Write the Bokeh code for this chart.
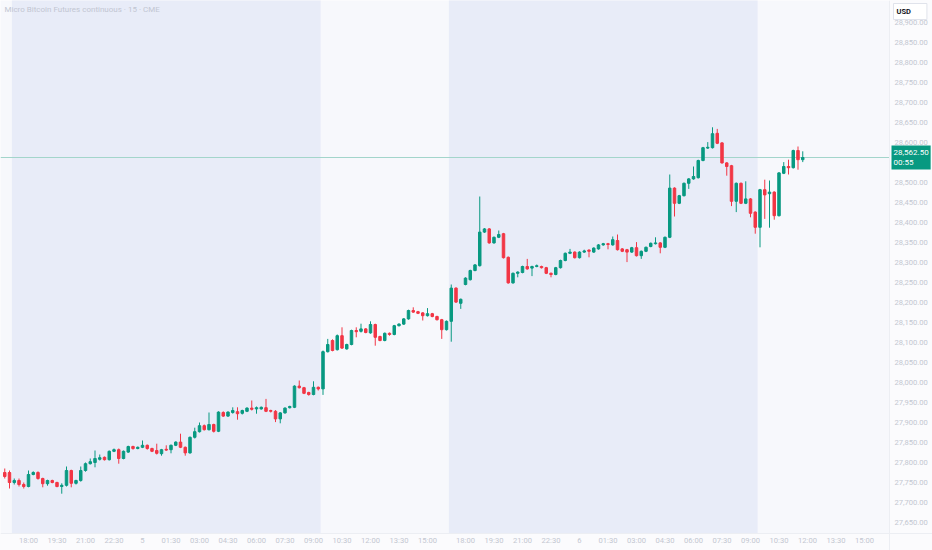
from bokeh.plotting import figure
from bokeh.models import (ColumnDataSource, FixedTicker, NumeralTickFormatter, Label, Range1d)
from bokeh.embed import file_html
from bokeh.resources import INLINE

title_text = "Micro Bitcoin Futures continuous · 15 · CME"
currency = "USD"
last_price_text = "28,562.50\n00:55"
last_price = 28562.5

# compressed trading-hour axis: 0 = 00:00 of day 5, the 16:00-17:00 break removed
first_bar_hour = -7.25
bar_step = 0.25

opens = [27775, 27775, 27750, 27755, 27745, 27740, 27770, 27775, 27760, 27747,
         27755, 27750, 27740, 27743, 27780, 27748, 27755, 27780, 27797, 27800,
         27808, 27813, 27807, 27828, 27832, 27810, 27826, 27840, 27835, 27838,
         27843, 27835, 27830, 27822, 27833, 27832, 27843, 27851, 27838, 27824,
         27863, 27877, 27892, 27882, 27895, 27878, 27925, 27916, 27925, 27927,
         27923, 27928, 27936, 27934, 27934, 27937, 27930, 27928, 27909, 27924,
         27937, 27938, 27991, 27987, 27975, 27970, 27988, 27984, 28077, 28105,
         28082, 28117, 28084, 28095, 28130, 28128, 28134, 28124, 28145, 28115,
         28105, 28123, 28120, 28142, 28146, 28159, 28180, 28177, 28174, 28167,
         28172, 28165, 28157, 28132, 28153, 28236, 28198, 28245, 28257, 28280,
         28292, 28376, 28384, 28349, 28363, 28372, 28313, 28249, 28273, 28275,
         28290, 28286, 28290, 28290, 28287, 28273, 28270, 28287, 28305, 28323,
         28326, 28312, 28326, 28331, 28326, 28334, 28344, 28347, 28344, 28355,
         28334, 28332, 28326, 28337, 28317, 28328, 28340, 28347, 28349, 28338,
         28363, 28486, 28448, 28467, 28498, 28509, 28512, 28555, 28586, 28587,
         28623, 28599, 28549, 28542, 28453, 28498, 28448, 28459, 28426, 28388,
         28482, 28472, 28476, 28417, 28523, 28540, 28537, 28580, 28557]
highs = [27785, 27780, 27760, 27760, 27750, 27780, 27778, 27778, 27762, 27757,
         27757, 27752, 27748, 27790, 27782, 27757, 27790, 27800, 27810, 27830,
         27820, 27815, 27830, 27835, 27835, 27830, 27842, 27842, 27840, 27855,
         27845, 27837, 27847, 27834, 27843, 27845, 27853, 27872, 27840, 27865,
         27887, 27900, 27895, 27925, 27897, 27928, 27928, 27928, 27938, 27938,
         27932, 27938, 27955, 27940, 27940, 27959, 27932, 27931, 27926, 27938,
         27942, 27993, 28005, 27989, 27977, 28003, 27990, 28080, 28109, 28108,
         28120, 28138, 28097, 28132, 28138, 28147, 28136, 28153, 28147, 28117,
         28125, 28125, 28144, 28148, 28161, 28182, 28188, 28179, 28176, 28186,
         28174, 28167, 28159, 28155, 28245, 28238, 28210, 28263, 28282, 28296,
         28465, 28386, 28386, 28365, 28380, 28374, 28315, 28275, 28278, 28292,
         28309, 28292, 28295, 28292, 28289, 28275, 28289, 28307, 28325, 28334,
         28328, 28328, 28332, 28333, 28338, 28346, 28349, 28349, 28365, 28370,
         28336, 28334, 28339, 28351, 28330, 28340, 28350, 28363, 28351, 28365,
         28520, 28488, 28469, 28500, 28511, 28540, 28557, 28589, 28601, 28638,
         28634, 28601, 28551, 28544, 28500, 28500, 28503, 28461, 28428, 28484,
         28507, 28505, 28478, 28526, 28551, 28557, 28582, 28590, 28578]
lows = [27760, 27735, 27745, 27740, 27735, 27738, 27768, 27757, 27738, 27742,
        27748, 27738, 27722, 27740, 27738, 27745, 27752, 27777, 27795, 27788,
        27805, 27805, 27805, 27826, 27797, 27808, 27824, 27832, 27833, 27836,
        27832, 27826, 27820, 27817, 27829, 27823, 27841, 27836, 27817, 27822,
        27860, 27875, 27880, 27880, 27875, 27876, 27914, 27914, 27922, 27907,
        27920, 27926, 27930, 27922, 27932, 27926, 27925, 27901, 27898, 27922,
        27935, 27936, 27985, 27971, 27967, 27968, 27980, 27969, 28075, 28078,
        28080, 28084, 28082, 28093, 28113, 28125, 28123, 28122, 28092, 28103,
        28103, 28117, 28118, 28140, 28144, 28157, 28174, 28171, 28155, 28165,
        28163, 28155, 28109, 28130, 28102, 28199, 28184, 28243, 28255, 28278,
        28290, 28374, 28347, 28347, 28361, 28310, 28247, 28247, 28263, 28273,
        28282, 28266, 28288, 28285, 28271, 28263, 28268, 28285, 28303, 28321,
        28310, 28310, 28324, 28313, 28324, 28332, 28342, 28333, 28342, 28330,
        28326, 28301, 28324, 28315, 28309, 28326, 28338, 28345, 28323, 28336,
        28361, 28415, 28446, 28465, 28484, 28507, 28510, 28553, 28584, 28585,
        28596, 28547, 28517, 28441, 28426, 28446, 28446, 28413, 28372, 28338,
        28409, 28387, 28407, 28415, 28521, 28520, 28535, 28532, 28551]
closes = [27765, 27750, 27755, 27745, 27740, 27770, 27775, 27760, 27747, 27755,
          27750, 27740, 27743, 27780, 27748, 27755, 27780, 27797, 27802, 27810,
          27812, 27807, 27828, 27832, 27810, 27828, 27840, 27835, 27838, 27843,
          27835, 27828, 27823, 27832, 27831, 27843, 27851, 27838, 27824, 27863,
          27877, 27892, 27882, 27895, 27878, 27926, 27916, 27926, 27930, 27922,
          27930, 27936, 27933, 27937, 27938, 27928, 27928, 27909, 27924, 27936,
          27940, 27991, 27987, 27973, 27970, 27988, 27984, 28077, 28095, 28080,
          28117, 28086, 28095, 28130, 28127, 28134, 28125, 28145, 28113, 28105,
          28123, 28120, 28142, 28146, 28159, 28180, 28176, 28173, 28167, 28172,
          28165, 28157, 28132, 28153, 28236, 28201, 28208, 28261, 28280, 28294,
          28376, 28384, 28349, 28363, 28370, 28312, 28249, 28273, 28276, 28290,
          28284, 28290, 28292, 28287, 28273, 28270, 28287, 28305, 28323, 28326,
          28312, 28326, 28329, 28328, 28336, 28344, 28347, 28345, 28357, 28332,
          28328, 28326, 28337, 28317, 28328, 28338, 28348, 28349, 28338, 28363,
          28486, 28448, 28467, 28498, 28509, 28515, 28555, 28587, 28588, 28622,
          28598, 28549, 28540, 28453, 28498, 28448, 28459, 28423, 28388, 28482,
          28469, 28476, 28417, 28524, 28540, 28537, 28580, 28557, 28562.5]

# trading session shading (compressed hours)
session_starts = [-6.875, 16.125]
session_ends = [9.375, 32.375]

x_tick_pos = [-6, -4.5, -3, -1.5, 0, 1.5, 3, 4.5, 6, 7.5, 9, 10.5, 12, 13.5, 15,
              17, 18.5, 20, 21.5, 23, 24.5, 26, 27.5, 29, 30.5, 32, 33.5, 35, 36.5, 38]
x_tick_labels = ["18:00", "19:30", "21:00", "22:30", "5", "01:30", "03:00", "04:30", "06:00",
                 "07:30", "09:00", "10:30", "12:00", "13:30", "15:00",
                 "18:00", "19:30", "21:00", "22:30", "6", "01:30", "03:00", "04:30", "06:00",
                 "07:30", "09:00", "10:30", "12:00", "13:30", "15:00"]
y_ticks = [27650, 27700, 27750, 27800, 27850, 27900, 27950, 28000, 28050, 28100,
           28150, 28200, 28250, 28300, 28350, 28400, 28450, 28500, 28550, 28600,
           28650, 28700, 28750, 28800, 28850, 28900]

W, H = 932, 550
PX_PER_HOUR = 19.0
PX_PER_USD = 0.4
x_start = -142 / PX_PER_HOUR
x_end = x_start + W / PX_PER_HOUR
y_end = 28600 + 142 / PX_PER_USD
y_start = y_end - H / PX_PER_USD
price_axis_x = x_start + 889 / PX_PER_HOUR     # where the price scale begins
time_axis_y = y_end - 533 / PX_PER_USD         # where the time scale begins

UP = "#089981"
DOWN = "#f23645"
FONT = "Roboto"
AXIS_TEXT = "#c3c7d1"
SCALE_BG = "#fbfbfd"

n = len(opens)
bar_x = [first_bar_hour + bar_step * i for i in range(n)]
colors = [UP if c >= o else DOWN for o, c in zip(opens, closes)]
src = ColumnDataSource(dict(
    x=bar_x, h=highs, l=lows,
    top=[max(o, c) for o, c in zip(opens, closes)],
    bottom=[min(o, c) for o, c in zip(opens, closes)],
    color=colors))

p = figure(width=W, height=H, x_range=Range1d(x_start, x_end), y_range=Range1d(y_start, y_end),
           y_axis_location="right", output_backend="svg", toolbar_location=None,
           min_border_left=0, min_border_top=0, min_border_right=0, min_border_bottom=0)
p.background_fill_color = "#f7f8fc"
p.border_fill_color = SCALE_BG
p.outline_line_color = None
p.grid.visible = False

# session backgrounds
p.quad(left=session_starts, right=session_ends, top=[y_end + 500] * 2, bottom=[time_axis_y] * 2,
       fill_color="#e8ecf8", line_color=None)
# price-scale and time-scale backgrounds
p.quad(left=[price_axis_x, x_start - 1], right=[x_end + 1, x_end + 1],
       top=[y_end + 500, time_axis_y], bottom=[y_start - 500, y_start - 500],
       fill_color=SCALE_BG, line_color=None)

# last price line
p.line(x=[x_start, price_axis_x], y=[last_price, last_price], line_color="#a3d5cb", line_width=1)

p.segment(x0="x", y0="h", x1="x", y1="l", line_color="color", line_width=1, source=src)
p.vbar(x="x", width=0.13, top="top", bottom="bottom", fill_color="color", line_color="color",
       line_width=1, source=src)

# axes drawn at fixed locations inside the frame
p.xaxis.fixed_location = time_axis_y
p.yaxis.fixed_location = price_axis_x
p.xaxis.ticker = FixedTicker(ticks=x_tick_pos)
p.xaxis.major_label_overrides = {k: v for k, v in zip(x_tick_pos, x_tick_labels)}
p.yaxis.ticker = FixedTicker(ticks=y_ticks)
p.yaxis.formatter = NumeralTickFormatter(format="0,0.00")
for ax in (p.xaxis[0], p.yaxis[0]):
    ax.major_tick_line_color = None
    ax.minor_tick_line_color = None
    ax.major_tick_in = 0
    ax.major_tick_out = 0
    ax.minor_tick_in = 0
    ax.minor_tick_out = 0
    ax.axis_line_color = "#eceef3"
    ax.major_label_text_color = AXIS_TEXT
    ax.major_label_text_font = FONT
    ax.major_label_text_font_size = "7.6px"
p.xaxis.major_label_standoff = 2
p.yaxis.major_label_standoff = 5

# texts
p.add_layout(Label(x=4, y=4, x_units="canvas", y_units="canvas", text=title_text,
                   text_baseline="top", text_align="left", text_font=FONT,
                   text_font_size="8px", text_color="#c2c6d2"))
p.add_layout(Label(x=891, y=last_price, x_units="canvas", y_units="data", text=last_price_text,
                   text_baseline="middle", text_align="left", text_font=FONT,
                   text_font_size="8px", text_color="white", background_fill_color=UP,
                   padding=2))
p.add_layout(Label(x=893, y=3, x_units="canvas", y_units="canvas", text=currency,
                   text_baseline="top", text_align="left", text_font=FONT,
                   text_font_size="7.5px", text_color="#131722", text_font_style="bold",
                   background_fill_color="white", border_line_color="#e0e3eb",
                   padding=(3, 16, 3, 4)))

open("out.html", "w").write(file_html(p, INLINE))
